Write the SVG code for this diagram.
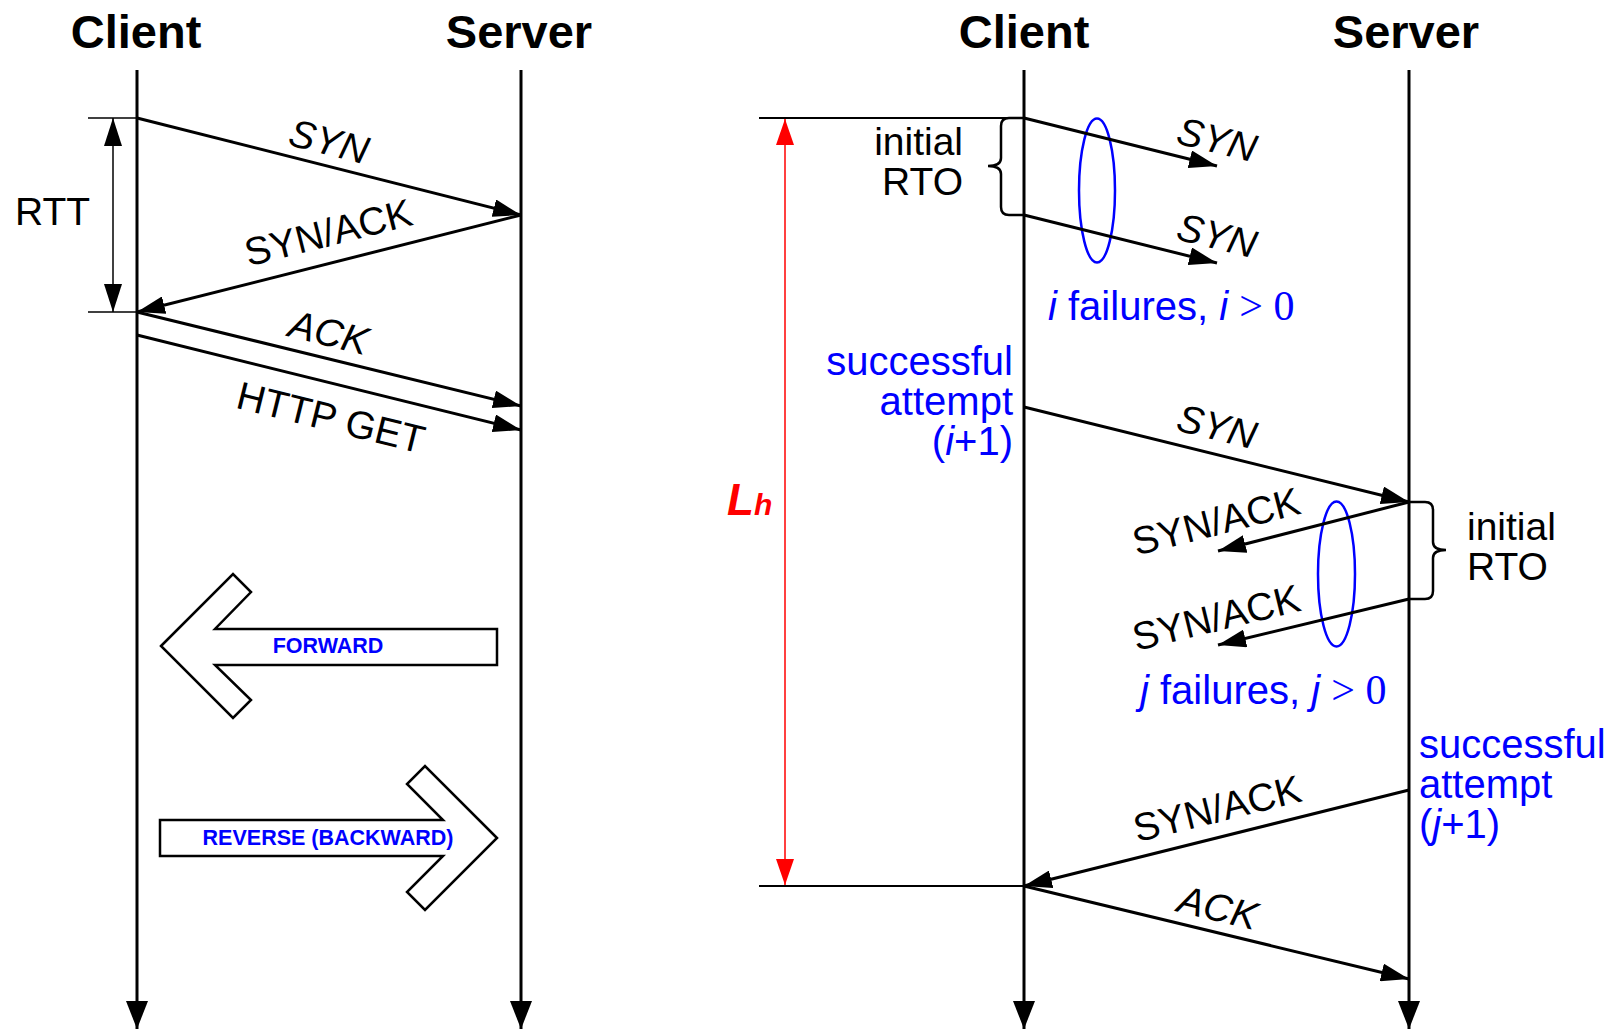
<svg xmlns="http://www.w3.org/2000/svg" width="1609" height="1029" viewBox="0 0 1609 1029">
  <defs>
    <style>
      .title { font-family: "Liberation Sans", Arial, sans-serif; font-weight: bold; font-size: 47px; text-anchor: middle; fill: #000; }
      .lbl { font-family: "Liberation Sans", Arial, sans-serif; font-size: 39px; text-anchor: middle; fill: #000; }
      .it { font-style: italic; }
      .note { font-family: "Liberation Sans", Arial, sans-serif; font-size: 39px; fill: #000; }
      .blue { font-family: "Liberation Sans", Arial, sans-serif; font-size: 40px; fill: #0000ff; }
      .serif { font-family: "Liberation Serif", "Times New Roman", serif; font-size: 42px; }
      .dir { font-family: "Liberation Sans", Arial, sans-serif; font-weight: bold; font-size: 21.5px; text-anchor: middle; fill: #0000ff; }
      .life { stroke: #000; stroke-width: 3; fill: none; marker-end: url(#ahLife); }
      .msg { stroke: #000; stroke-width: 3; fill: none; marker-end: url(#ah); }
      .tick { stroke: #000; stroke-width: 1.5; fill: none; }
      .block { stroke: #000; stroke-width: 2.5; fill: #fff; stroke-linejoin: miter; }
      .brace { stroke: #000; stroke-width: 2.5; fill: none; }
      .oval { stroke: #0000ff; stroke-width: 2.5; fill: none; }
    </style>
    <marker id="ah" markerUnits="userSpaceOnUse" markerWidth="28" markerHeight="18" refX="28" refY="9" orient="auto-start-reverse">
      <path d="M0,0 L28,9 L0,18 z" fill="#000"/>
    </marker>
    <marker id="ahLife" markerUnits="userSpaceOnUse" markerWidth="28" markerHeight="22" refX="28" refY="11" orient="auto">
      <path d="M0,0 L28,11 L0,22 z" fill="#000"/>
    </marker>
    <marker id="ahRed" markerUnits="userSpaceOnUse" markerWidth="26" markerHeight="18" refX="26" refY="9" orient="auto-start-reverse">
      <path d="M0,0 L26,9 L0,18 z" fill="#ff0000"/>
    </marker>
  </defs>

  <rect width="1609" height="1029" fill="#fff"/>

  <!-- left handshake: lifelines -->
  <g id="left-client">
    <text class="title" x="136" y="48">Client</text>
    <line class="life" x1="137" y1="70" x2="137" y2="1029"/>
  </g>
  <g id="left-server">
    <text class="title" x="519" y="48">Server</text>
    <line class="life" x1="521" y1="70" x2="521" y2="1029"/>
  </g>

  <!-- round trip time span -->
  <g id="rtt">
    <line class="tick" x1="88" y1="118" x2="137" y2="118"/>
    <line class="tick" x1="88" y1="312" x2="137" y2="312"/>
    <line x1="113" y1="118" x2="113" y2="312" stroke="#000" stroke-width="1.5" marker-start="url(#ah)" marker-end="url(#ah)"/>
    <text class="note" x="15" y="225" font-size="37">RTT</text>
  </g>

  <!-- direction block arrows -->
  <g id="forward">
    <polygon class="block" points="161,646 233,574 251,592 215,629 497,629 497,665 215,665 251,700 233,718"/>
    <text class="dir" x="328" y="653">FORWARD</text>
  </g>
  <g id="reverse">
    <polygon class="block" points="497,838 425,766 407,784 443,820 160,820 160,856 443,856 407,892 425,910"/>
    <text class="dir" x="328" y="845">REVERSE (BACKWARD)</text>
  </g>

  <!-- right handshake: lifelines -->
  <g id="right-client">
    <text class="title" x="1024" y="48">Client</text>
    <line class="life" x1="1024" y1="70" x2="1024" y2="1029"/>
  </g>
  <g id="right-server">
    <text class="title" x="1406" y="48">Server</text>
    <line class="life" x1="1409" y1="70" x2="1409" y2="1029"/>
  </g>

  <!-- handshake latency span -->
  <g id="latency">
    <line x1="759" y1="118" x2="1024" y2="118" stroke="#000" stroke-width="2"/>
    <line x1="759" y1="886" x2="1024" y2="886" stroke="#000" stroke-width="2"/>
    <line x1="785" y1="119" x2="785" y2="885" stroke="#ff0000" stroke-width="1.5" marker-start="url(#ahRed)" marker-end="url(#ahRed)"/>
    <text x="727" y="515" font-family="Liberation Sans, Arial, sans-serif" font-weight="bold" font-style="italic" font-size="44" fill="#ff0000">L<tspan font-size="30">h</tspan></text>
  </g>

  <!-- client retransmission interval -->
  <g id="client-rto">
    <path class="brace" d="M1024,118 H1009 Q1001,118 1001,126 V158 Q1001,166 988,166 Q1001,166 1001,174 V207 Q1001,215 1009,215 H1024"/>
    <text class="note" x="963" y="155" text-anchor="end">initial</text>
    <text class="note" x="963" y="195" text-anchor="end">RTO</text>
  </g>
  <g id="client-failures">
    <ellipse class="oval" cx="1097" cy="190.5" rx="18" ry="72"/>
    <text class="blue" x="1048" y="320"><tspan class="it">i</tspan> failures, <tspan class="it">i</tspan> <tspan class="serif">&gt; 0</tspan></text>
  </g>
  <g id="client-success">
    <text class="blue" x="1013" y="375" text-anchor="end">successful</text>
    <text class="blue" x="1013" y="415" text-anchor="end">attempt</text>
    <text class="blue" x="1013" y="455" text-anchor="end">(<tspan class="it">i</tspan>+1)</text>
  </g>

  <!-- server retransmission interval -->
  <g id="server-rto">
    <path class="brace" d="M1409,502 H1425 Q1433,502 1433,510 V542 Q1433,550 1446,550 Q1433,550 1433,558 V591 Q1433,599 1425,599 H1409"/>
    <text class="note" x="1467" y="540">initial</text>
    <text class="note" x="1467" y="580">RTO</text>
  </g>
  <g id="server-failures">
    <ellipse class="oval" cx="1336.5" cy="574" rx="18.5" ry="72.5"/>
    <text class="blue" x="1140" y="704"><tspan class="it">j</tspan> failures, <tspan class="it">j</tspan> <tspan class="serif">&gt; 0</tspan></text>
  </g>
  <g id="server-success">
    <text class="blue" x="1419" y="758">successful</text>
    <text class="blue" x="1419" y="798">attempt</text>
    <text class="blue" x="1419" y="838">(<tspan class="it">j</tspan>+1)</text>
  </g>

  <!-- messages -->
  <g id="connectors">
    <line class="msg" x1="137" y1="118" x2="521" y2="215"/>
    <line class="msg" x1="521" y1="215" x2="137" y2="312"/>
    <line class="msg" x1="137" y1="312" x2="521" y2="406"/>
    <line class="msg" x1="137" y1="335" x2="521" y2="430"/>

    <line class="msg" x1="1024" y1="118" x2="1217" y2="166"/>
    <line class="msg" x1="1024" y1="215" x2="1217" y2="263"/>
    <line class="msg" x1="1024" y1="407" x2="1409" y2="502"/>
    <line class="msg" x1="1409" y1="502" x2="1218" y2="551"/>
    <line class="msg" x1="1409" y1="599" x2="1218" y2="645"/>
    <line class="msg" x1="1409" y1="790" x2="1024" y2="886"/>
    <line class="msg" x1="1024" y1="886" x2="1409" y2="979"/>
  </g>

  <!-- message labels -->
  <g id="message-labels">
    <text class="lbl it" transform="translate(329,141) rotate(14.2)" y="14">SYN</text>
    <text class="lbl" transform="translate(328,232) rotate(-14.2)" y="14">SYN/ACK</text>
    <text class="lbl it" transform="translate(329,332) rotate(13.7)" y="14">ACK</text>
    <text class="lbl" transform="translate(331,417) rotate(13.9)" y="14">HTTP GET</text>

    <text class="lbl it" transform="translate(1217,139) rotate(14)" y="14">SYN</text>
    <text class="lbl it" transform="translate(1217,235) rotate(14)" y="14">SYN</text>
    <text class="lbl it" transform="translate(1217,426) rotate(13.9)" y="14">SYN</text>
    <text class="lbl" transform="translate(1216,521) rotate(-14.4)" y="14">SYN/ACK</text>
    <text class="lbl" transform="translate(1216,617) rotate(-13.7)" y="14">SYN/ACK</text>
    <text class="lbl" transform="translate(1217,808) rotate(-14)" y="14">SYN/ACK</text>
    <text class="lbl it" transform="translate(1218,907) rotate(13.6)" y="14">ACK</text>
  </g>
</svg>
